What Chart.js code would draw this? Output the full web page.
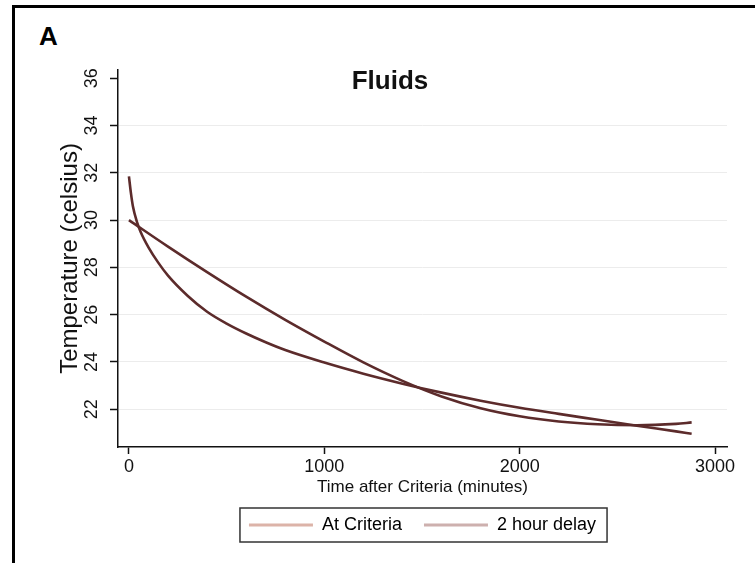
<!DOCTYPE html>
<html>
<head>
<meta charset="utf-8">
<script src="https://cdn.jsdelivr.net/npm/chart.js@4.4.1/dist/chart.umd.min.js"></script>
<style>
    body { margin: 0; background: #fff; font-family: "Liberation Sans", Arial, sans-serif; }
    #frame { position: absolute; left: 12px; top: 5px; width: 760px; height: 600px;
             border-left: 3px solid #000; border-top: 3px solid #000; }
    #panel { position: absolute; left: 39px; top: 21px; font-size: 26px; font-weight: bold; }
    #wrap { position: absolute; left: 0; top: 0; width: 755px; height: 563px; }
</style>
</head>
<body>
<div id="frame"></div>
<div id="panel">A</div>
<div id="wrap"><canvas id="fluidsChart"></canvas></div>
<script>
// Series (minutes after criteria, temperature in celsius)
const timeCriteria = [0, 10, 20, 40, 60, 100, 150, 200, 300, 400, 500, 600, 700, 800, 1000,
                      1200, 1400, 1600, 1800, 2000, 2200, 2400, 2600, 2800, 2880];
const tempCriteria = [31.85, 31.15, 30.6, 29.95, 29.5, 28.85, 28.2, 27.65, 26.8, 26.12, 25.62, 25.2, 24.83, 24.5, 23.97,
                      23.5, 23.08, 22.7, 22.36, 22.06, 21.8, 21.55, 21.3, 21.06, 20.96];

const timeDelay = [0, 200, 400, 600, 800, 1000, 1200, 1400, 1600, 1800, 2000, 2200, 2400, 2600, 2800, 2880];
const tempDelay = [30.0, 28.88, 27.8, 26.76, 25.78, 24.86, 23.98, 23.2, 22.54, 22.04, 21.7, 21.48, 21.36, 21.32, 21.38, 21.44];

const seriesNames = ['At Criteria', '2 hour delay'];
const legendColors = ['#dcb3a8', '#cdb0ae'];
const xTicks = [0, 1000, 2000, 3000];
const yTicks = [22, 24, 26, 28, 30, 32, 34, 36];

const toPoints = (xs, ys) => xs.map((x, i) => ({ x: x, y: ys[i] }));

// Title drawn inside the plot area
const titlePlugin = {
    id: 'insideTitle',
    afterDraw(chart) {
        const c = chart.ctx;
        c.save();
        c.font = 'bold 26px "Liberation Sans", Arial, sans-serif';
        c.fillStyle = '#111';
        c.textAlign = 'center';
        c.textBaseline = 'middle';
        c.fillText('Fluids', 390, 82);
        c.restore();
    }
};

// Frame around the legend items
const legendBox = {
    id: 'legendBox',
    afterDraw(chart) {
        const boxes = chart.legend.legendHitBoxes;
        if (!boxes || !boxes.length) return;
        const left = Math.min(...boxes.map(b => b.left)) - 9;
        const right = Math.max(...boxes.map(b => b.left + b.width)) + 11;
        const mid = boxes[0].top + boxes[0].height / 2;
        const c = chart.ctx;
        c.save();
        c.strokeStyle = '#333';
        c.lineWidth = 1.5;
        c.strokeRect(left, mid - 17, right - left, 34);
        c.restore();
    }
};

const font = '"Liberation Sans", Arial, sans-serif';
const ctx = document.getElementById('fluidsChart').getContext('2d');
const fluidsChart = new Chart(ctx, {
    type: 'line',
    data: {
        datasets: [{
            label: seriesNames[0],
            data: toPoints(timeCriteria, tempCriteria),
            borderColor: '#5c2b2b',
            borderWidth: 2.6,
            pointRadius: 0,
            cubicInterpolationMode: 'monotone',
            fill: false
        }, {
            label: seriesNames[1],
            data: toPoints(timeDelay, tempDelay),
            borderColor: '#5c2b2b',
            borderWidth: 2.6,
            pointRadius: 0,
            cubicInterpolationMode: 'monotone',
            fill: false
        }]
    },
    options: {
        responsive: true,
        maintainAspectRatio: false,
        animation: false,
        layout: { padding: { left: 55, right: 28, top: 70, bottom: 19 } },
        plugins: {
            tooltip: { enabled: false },
            legend: {
                position: 'bottom',
                fullSize: false,
                labels: {
                    font: { family: font, size: 18 },
                    color: '#111',
                    boxWidth: 64,
                    boxHeight: 3,
                    padding: 22,
                    generateLabels: chart => seriesNames.map((name, i) => ({
                        text: name,
                        fillStyle: legendColors[i],
                        strokeStyle: legendColors[i],
                        lineWidth: 0,
                        hidden: false,
                        datasetIndex: i
                    }))
                }
            }
        },
        scales: {
            x: {
                type: 'linear',
                min: -56,
                max: 3061,
                afterBuildTicks: scale => { scale.ticks = xTicks.map(v => ({ value: v })); },
                afterFit: scale => { scale.height = 47; },
                ticks: {
                    font: { family: font, size: 18 },
                    color: '#111',
                    padding: 2,
                    maxRotation: 0,
                    callback: value => String(value)
                },
                grid: { drawOnChartArea: false, drawTicks: true, tickLength: 7, tickColor: '#111', tickWidth: 1.5 },
                border: { display: true, color: '#111', width: 1.5 },
                title: {
                    display: true,
                    text: 'Time after Criteria (minutes)',
                    font: { family: font, size: 17 },
                    color: '#111',
                    padding: { top: 0, bottom: -3.5 }
                }
            },
            y: {
                min: 20.4,
                max: 36.35,
                afterBuildTicks: scale => { scale.ticks = yTicks.map(v => ({ value: v })); },
                afterFit: scale => { scale.width = 63; },
                ticks: {
                    font: { family: font, size: 18 },
                    color: '#111',
                    minRotation: 90,
                    maxRotation: 90,
                    crossAlign: 'center',
                    padding: 8
                },
                grid: {
                    color: c => (c.tick && c.tick.value === 36) ? 'rgba(0,0,0,0)' : '#ececec',
                    lineWidth: 1,
                    drawTicks: true,
                    tickLength: 8,
                    tickColor: '#111',
                    tickWidth: 1.5
                },
                border: { display: true, color: '#111', width: 1.5 },
                title: {
                    display: true,
                    text: 'Temperature (celsius)',
                    font: { family: font, size: 24 },
                    color: '#111',
                    padding: { top: 1, bottom: 0 }
                }
            }
        }
    },
    plugins: [titlePlugin, legendBox]
});
</script>
</body>
</html>
